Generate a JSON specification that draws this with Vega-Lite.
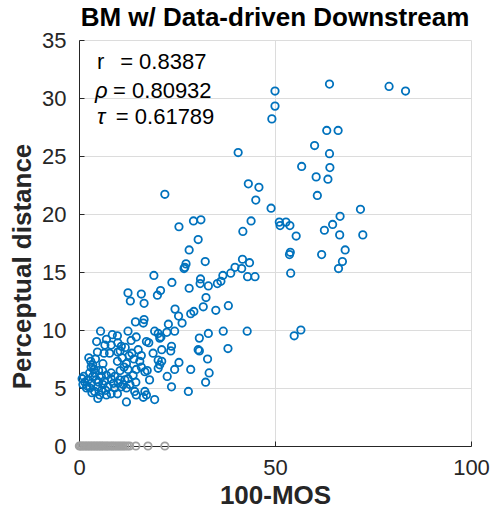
{
  "$schema": "https://vega.github.io/schema/vega-lite/v6.json",
  "width": 392,
  "height": 406,
  "autosize": {"type": "none"},
  "padding": {"left": 79, "top": 40, "right": 21, "bottom": 75},
  "background": "white",
  "title": {
    "text": "BM w/ Data-driven Downstream",
    "font": "Liberation Sans",
    "fontSize": 26,
    "fontWeight": "bold",
    "color": "#000000",
    "anchor": "middle",
    "frame": "group",
    "baseline": "alphabetic",
    "offset": 2,
    "dy": 25
  },
  "config": {
    "view": {"stroke": null},
    "axis": {
      "labelFont": "Liberation Sans",
      "labelFontSize": 22,
      "labelColor": "#262626",
      "labelFlush": false,
      "titleFont": "Liberation Sans",
      "titleFontSize": 26,
      "titleFontWeight": "bold",
      "titleColor": "#262626",
      "domainColor": "#262626",
      "domainWidth": 1,
      "tickColor": "#262626",
      "tickSize": -5,
      "gridColor": "#DCDCDC",
      "gridWidth": 1
    }
  },
  "datasets": {
    "scores": [
      {"mos": 50.0, "dist": 30.6, "group": "scored"},
      {"mos": 50.0, "dist": 29.3, "group": "scored"},
      {"mos": 49.2, "dist": 28.2, "group": "scored"},
      {"mos": 63.9, "dist": 31.2, "group": "scored"},
      {"mos": 79.1, "dist": 31.0, "group": "scored"},
      {"mos": 83.3, "dist": 30.6, "group": "scored"},
      {"mos": 63.2, "dist": 27.2, "group": "scored"},
      {"mos": 66.1, "dist": 27.2, "group": "scored"},
      {"mos": 60.1, "dist": 25.9, "group": "scored"},
      {"mos": 63.9, "dist": 25.2, "group": "scored"},
      {"mos": 56.8, "dist": 24.1, "group": "scored"},
      {"mos": 64.0, "dist": 24.0, "group": "scored"},
      {"mos": 60.5, "dist": 23.2, "group": "scored"},
      {"mos": 63.5, "dist": 23.0, "group": "scored"},
      {"mos": 60.8, "dist": 21.6, "group": "scored"},
      {"mos": 49.0, "dist": 20.5, "group": "scored"},
      {"mos": 71.8, "dist": 20.4, "group": "scored"},
      {"mos": 51.1, "dist": 19.3, "group": "scored"},
      {"mos": 52.8, "dist": 19.3, "group": "scored"},
      {"mos": 51.3, "dist": 19.0, "group": "scored"},
      {"mos": 53.8, "dist": 19.0, "group": "scored"},
      {"mos": 55.4, "dist": 18.1, "group": "scored"},
      {"mos": 66.6, "dist": 19.8, "group": "scored"},
      {"mos": 64.7, "dist": 19.1, "group": "scored"},
      {"mos": 62.6, "dist": 18.6, "group": "scored"},
      {"mos": 66.5, "dist": 18.2, "group": "scored"},
      {"mos": 72.4, "dist": 18.2, "group": "scored"},
      {"mos": 53.9, "dist": 16.7, "group": "scored"},
      {"mos": 53.7, "dist": 16.5, "group": "scored"},
      {"mos": 61.9, "dist": 16.5, "group": "scored"},
      {"mos": 67.9, "dist": 16.9, "group": "scored"},
      {"mos": 67.2, "dist": 15.9, "group": "scored"},
      {"mos": 66.2, "dist": 15.3, "group": "scored"},
      {"mos": 54.0, "dist": 14.9, "group": "scored"},
      {"mos": 56.6, "dist": 10.0, "group": "scored"},
      {"mos": 54.9, "dist": 9.5, "group": "scored"},
      {"mos": 40.6, "dist": 25.3, "group": "scored"},
      {"mos": 21.9, "dist": 21.7, "group": "scored"},
      {"mos": 43.2, "dist": 22.6, "group": "scored"},
      {"mos": 45.9, "dist": 22.3, "group": "scored"},
      {"mos": 45.1, "dist": 21.2, "group": "scored"},
      {"mos": 25.5, "dist": 18.9, "group": "scored"},
      {"mos": 29.2, "dist": 19.4, "group": "scored"},
      {"mos": 31.1, "dist": 19.5, "group": "scored"},
      {"mos": 43.9, "dist": 19.4, "group": "scored"},
      {"mos": 41.8, "dist": 18.5, "group": "scored"},
      {"mos": 30.4, "dist": 17.8, "group": "scored"},
      {"mos": 28.1, "dist": 16.9, "group": "scored"},
      {"mos": 32.2, "dist": 15.9, "group": "scored"},
      {"mos": 27.3, "dist": 15.7, "group": "scored"},
      {"mos": 27.0, "dist": 15.4, "group": "scored"},
      {"mos": 26.8, "dist": 15.3, "group": "scored"},
      {"mos": 41.7, "dist": 16.1, "group": "scored"},
      {"mos": 43.5, "dist": 15.8, "group": "scored"},
      {"mos": 41.5, "dist": 15.3, "group": "scored"},
      {"mos": 39.8, "dist": 15.4, "group": "scored"},
      {"mos": 38.7, "dist": 14.9, "group": "scored"},
      {"mos": 36.7, "dist": 14.7, "group": "scored"},
      {"mos": 36.2, "dist": 14.2, "group": "scored"},
      {"mos": 35.3, "dist": 14.0, "group": "scored"},
      {"mos": 43.0, "dist": 14.6, "group": "scored"},
      {"mos": 44.9, "dist": 14.6, "group": "scored"},
      {"mos": 31.0, "dist": 14.4, "group": "scored"},
      {"mos": 30.9, "dist": 14.0, "group": "scored"},
      {"mos": 33.0, "dist": 13.8, "group": "scored"},
      {"mos": 23.7, "dist": 14.1, "group": "scored"},
      {"mos": 28.1, "dist": 13.6, "group": "scored"},
      {"mos": 20.8, "dist": 13.4, "group": "scored"},
      {"mos": 32.4, "dist": 12.8, "group": "scored"},
      {"mos": 24.5, "dist": 11.8, "group": "scored"},
      {"mos": 25.4, "dist": 11.2, "group": "scored"},
      {"mos": 26.3, "dist": 10.6, "group": "scored"},
      {"mos": 28.5, "dist": 11.4, "group": "scored"},
      {"mos": 29.3, "dist": 11.6, "group": "scored"},
      {"mos": 31.7, "dist": 12.0, "group": "scored"},
      {"mos": 34.9, "dist": 11.7, "group": "scored"},
      {"mos": 38.1, "dist": 12.1, "group": "scored"},
      {"mos": 22.8, "dist": 10.5, "group": "scored"},
      {"mos": 22.4, "dist": 9.8, "group": "scored"},
      {"mos": 24.4, "dist": 9.9, "group": "scored"},
      {"mos": 30.7, "dist": 9.3, "group": "scored"},
      {"mos": 33.0, "dist": 9.7, "group": "scored"},
      {"mos": 36.8, "dist": 9.9, "group": "scored"},
      {"mos": 42.9, "dist": 9.9, "group": "scored"},
      {"mos": 20.9, "dist": 9.4, "group": "scored"},
      {"mos": 23.6, "dist": 8.6, "group": "scored"},
      {"mos": 23.4, "dist": 8.2, "group": "scored"},
      {"mos": 21.1, "dist": 8.3, "group": "scored"},
      {"mos": 30.4, "dist": 8.3, "group": "scored"},
      {"mos": 30.7, "dist": 8.2, "group": "scored"},
      {"mos": 38.0, "dist": 8.4, "group": "scored"},
      {"mos": 32.8, "dist": 7.5, "group": "scored"},
      {"mos": 25.5, "dist": 7.2, "group": "scored"},
      {"mos": 21.1, "dist": 7.3, "group": "scored"},
      {"mos": 24.4, "dist": 6.6, "group": "scored"},
      {"mos": 28.5, "dist": 6.6, "group": "scored"},
      {"mos": 33.2, "dist": 6.3, "group": "scored"},
      {"mos": 22.5, "dist": 6.0, "group": "scored"},
      {"mos": 32.3, "dist": 5.5, "group": "scored"},
      {"mos": 23.6, "dist": 5.1, "group": "scored"},
      {"mos": 27.9, "dist": 4.7, "group": "scored"},
      {"mos": 19.1, "dist": 14.7, "group": "scored"},
      {"mos": 12.5, "dist": 13.2, "group": "scored"},
      {"mos": 13.1, "dist": 12.5, "group": "scored"},
      {"mos": 15.9, "dist": 13.1, "group": "scored"},
      {"mos": 16.6, "dist": 12.3, "group": "scored"},
      {"mos": 20.0, "dist": 13.0, "group": "scored"},
      {"mos": 14.4, "dist": 10.7, "group": "scored"},
      {"mos": 16.6, "dist": 10.9, "group": "scored"},
      {"mos": 16.4, "dist": 10.6, "group": "scored"},
      {"mos": 5.5, "dist": 9.9, "group": "scored"},
      {"mos": 9.8, "dist": 9.5, "group": "scored"},
      {"mos": 12.5, "dist": 9.9, "group": "scored"},
      {"mos": 19.3, "dist": 9.9, "group": "scored"},
      {"mos": 14.6, "dist": 9.4, "group": "scored"},
      {"mos": 13.3, "dist": 9.1, "group": "scored"},
      {"mos": 17.2, "dist": 9.0, "group": "scored"},
      {"mos": 17.8, "dist": 8.9, "group": "scored"},
      {"mos": 20.2, "dist": 9.7, "group": "scored"},
      {"mos": 20.6, "dist": 9.3, "group": "scored"},
      {"mos": 6.6, "dist": 8.7, "group": "scored"},
      {"mos": 8.2, "dist": 8.7, "group": "scored"},
      {"mos": 9.9, "dist": 8.9, "group": "scored"},
      {"mos": 10.8, "dist": 8.6, "group": "scored"},
      {"mos": 4.7, "dist": 8.1, "group": "scored"},
      {"mos": 6.4, "dist": 8.0, "group": "scored"},
      {"mos": 7.8, "dist": 8.0, "group": "scored"},
      {"mos": 9.9, "dist": 8.1, "group": "scored"},
      {"mos": 11.0, "dist": 7.6, "group": "scored"},
      {"mos": 9.8, "dist": 7.3, "group": "scored"},
      {"mos": 3.0, "dist": 7.3, "group": "scored"},
      {"mos": 6.1, "dist": 7.1, "group": "scored"},
      {"mos": 3.1, "dist": 6.8, "group": "scored"},
      {"mos": 3.8, "dist": 6.6, "group": "scored"},
      {"mos": 8.2, "dist": 6.3, "group": "scored"},
      {"mos": 12.1, "dist": 7.1, "group": "scored"},
      {"mos": 12.5, "dist": 6.6, "group": "scored"},
      {"mos": 15.5, "dist": 7.3, "group": "scored"},
      {"mos": 15.9, "dist": 6.8, "group": "scored"},
      {"mos": 20.2, "dist": 7.4, "group": "scored"},
      {"mos": 20.6, "dist": 7.0, "group": "scored"},
      {"mos": 18.9, "dist": 8.0, "group": "scored"},
      {"mos": 16.8, "dist": 6.4, "group": "scored"},
      {"mos": 17.4, "dist": 6.5, "group": "scored"},
      {"mos": 18.0, "dist": 5.7, "group": "scored"},
      {"mos": 1.5, "dist": 5.5, "group": "scored"},
      {"mos": 2.3, "dist": 5.7, "group": "scored"},
      {"mos": 3.1, "dist": 5.4, "group": "scored"},
      {"mos": 4.4, "dist": 5.7, "group": "scored"},
      {"mos": 5.7, "dist": 6.0, "group": "scored"},
      {"mos": 7.0, "dist": 6.1, "group": "scored"},
      {"mos": 8.2, "dist": 5.8, "group": "scored"},
      {"mos": 9.1, "dist": 6.0, "group": "scored"},
      {"mos": 10.4, "dist": 5.7, "group": "scored"},
      {"mos": 11.7, "dist": 5.7, "group": "scored"},
      {"mos": 12.5, "dist": 5.8, "group": "scored"},
      {"mos": 4.8, "dist": 5.1, "group": "scored"},
      {"mos": 6.1, "dist": 5.3, "group": "scored"},
      {"mos": 7.4, "dist": 5.1, "group": "scored"},
      {"mos": 9.1, "dist": 5.0, "group": "scored"},
      {"mos": 10.8, "dist": 5.1, "group": "scored"},
      {"mos": 12.1, "dist": 5.0, "group": "scored"},
      {"mos": 4.0, "dist": 4.7, "group": "scored"},
      {"mos": 5.3, "dist": 4.4, "group": "scored"},
      {"mos": 7.0, "dist": 4.4, "group": "scored"},
      {"mos": 8.2, "dist": 4.5, "group": "scored"},
      {"mos": 9.8, "dist": 4.5, "group": "scored"},
      {"mos": 14.2, "dist": 4.7, "group": "scored"},
      {"mos": 14.6, "dist": 4.4, "group": "scored"},
      {"mos": 16.8, "dist": 4.7, "group": "scored"},
      {"mos": 17.2, "dist": 4.4, "group": "scored"},
      {"mos": 16.4, "dist": 4.2, "group": "scored"},
      {"mos": 12.1, "dist": 3.8, "group": "scored"},
      {"mos": 19.3, "dist": 4.0, "group": "scored"},
      {"mos": 4.8, "dist": 4.1, "group": "scored"},
      {"mos": 1.0, "dist": 5.3, "group": "scored"},
      {"mos": 1.9, "dist": 5.0, "group": "scored"},
      {"mos": 2.7, "dist": 6.3, "group": "scored"},
      {"mos": 4.0, "dist": 6.3, "group": "scored"},
      {"mos": 13.8, "dist": 6.1, "group": "scored"},
      {"mos": 14.6, "dist": 6.6, "group": "scored"},
      {"mos": 15.1, "dist": 8.3, "group": "scored"},
      {"mos": 15.9, "dist": 7.8, "group": "scored"},
      {"mos": 20.2, "dist": 6.7, "group": "scored"},
      {"mos": 0.8, "dist": 5.8, "group": "scored"},
      {"mos": 1.2, "dist": 6.0, "group": "scored"},
      {"mos": 2.0, "dist": 5.2, "group": "scored"},
      {"mos": 2.8, "dist": 5.0, "group": "scored"},
      {"mos": 3.5, "dist": 6.0, "group": "scored"},
      {"mos": 5.0, "dist": 5.5, "group": "scored"},
      {"mos": 6.5, "dist": 5.6, "group": "scored"},
      {"mos": 5.8, "dist": 4.8, "group": "scored"},
      {"mos": 3.3, "dist": 4.6, "group": "scored"},
      {"mos": 6.8, "dist": 4.8, "group": "scored"},
      {"mos": 8.8, "dist": 5.4, "group": "scored"},
      {"mos": 10.0, "dist": 5.4, "group": "scored"},
      {"mos": 11.3, "dist": 5.3, "group": "scored"},
      {"mos": 3.5, "dist": 7.0, "group": "scored"},
      {"mos": 2.5, "dist": 7.6, "group": "scored"},
      {"mos": 4.2, "dist": 7.5, "group": "scored"},
      {"mos": 5.0, "dist": 6.5, "group": "scored"},
      {"mos": 6.0, "dist": 6.5, "group": "scored"},
      {"mos": 10.5, "dist": 6.5, "group": "scored"},
      {"mos": 11.5, "dist": 6.8, "group": "scored"},
      {"mos": 10.5, "dist": 8.2, "group": "scored"},
      {"mos": 11.8, "dist": 8.5, "group": "scored"},
      {"mos": 13.5, "dist": 8.0, "group": "scored"},
      {"mos": 14.0, "dist": 7.5, "group": "scored"},
      {"mos": 12.8, "dist": 7.8, "group": "scored"},
      {"mos": 14.5, "dist": 5.5, "group": "scored"},
      {"mos": 13.0, "dist": 5.3, "group": "scored"},
      {"mos": 4.5, "dist": 9.0, "group": "scored"},
      {"mos": 7.0, "dist": 9.2, "group": "scored"},
      {"mos": 8.5, "dist": 9.6, "group": "scored"},
      {"mos": 0.1, "dist": 0, "group": "zero"},
      {"mos": 0.4, "dist": 0, "group": "zero"},
      {"mos": 0.8, "dist": 0, "group": "zero"},
      {"mos": 1.2, "dist": 0, "group": "zero"},
      {"mos": 1.6, "dist": 0, "group": "zero"},
      {"mos": 2.0, "dist": 0, "group": "zero"},
      {"mos": 2.4, "dist": 0, "group": "zero"},
      {"mos": 2.8, "dist": 0, "group": "zero"},
      {"mos": 3.2, "dist": 0, "group": "zero"},
      {"mos": 3.6, "dist": 0, "group": "zero"},
      {"mos": 4.0, "dist": 0, "group": "zero"},
      {"mos": 4.4, "dist": 0, "group": "zero"},
      {"mos": 4.8, "dist": 0, "group": "zero"},
      {"mos": 5.2, "dist": 0, "group": "zero"},
      {"mos": 5.6, "dist": 0, "group": "zero"},
      {"mos": 6.0, "dist": 0, "group": "zero"},
      {"mos": 6.4, "dist": 0, "group": "zero"},
      {"mos": 6.9, "dist": 0, "group": "zero"},
      {"mos": 7.3, "dist": 0, "group": "zero"},
      {"mos": 7.8, "dist": 0, "group": "zero"},
      {"mos": 8.3, "dist": 0, "group": "zero"},
      {"mos": 8.7, "dist": 0, "group": "zero"},
      {"mos": 9.2, "dist": 0, "group": "zero"},
      {"mos": 9.7, "dist": 0, "group": "zero"},
      {"mos": 10.2, "dist": 0, "group": "zero"},
      {"mos": 10.7, "dist": 0, "group": "zero"},
      {"mos": 11.2, "dist": 0, "group": "zero"},
      {"mos": 11.7, "dist": 0, "group": "zero"},
      {"mos": 12.3, "dist": 0, "group": "zero"},
      {"mos": 12.9, "dist": 0, "group": "zero"},
      {"mos": 14.5, "dist": 0, "group": "zero"},
      {"mos": 17.6, "dist": 0, "group": "zero"},
      {"mos": 21.9, "dist": 0, "group": "zero"}
    ]
  },
  "encoding": {
    "x": {
      "type": "quantitative",
      "scale": {"domain": [0, 100], "nice": false, "zero": false},
      "axis": {"title": "100-MOS", "values": [0, 50, 100], "grid": true, "labelPadding": 16, "titlePadding": 4}
    },
    "y": {
      "type": "quantitative",
      "scale": {"domain": [0, 35], "nice": false, "zero": false},
      "axis": {"title": "Perceptual distance", "values": [0, 5, 10, 15, 20, 25, 30, 35], "grid": true, "labelPadding": 18, "titlePadding": 6, "titleY": 226}
    }
  },
  "layer": [
    {
      "data": {"name": "scores"},
      "mark": {"type": "point", "shape": "circle", "filled": false, "size": 55, "strokeWidth": 1.8, "opacity": 1},
      "encoding": {
        "x": {"field": "mos", "type": "quantitative", "title": "100-MOS"},
        "y": {"field": "dist", "type": "quantitative", "title": "Perceptual distance"},
        "color": {
          "field": "group",
          "type": "nominal",
          "scale": {"domain": ["scored", "zero"], "range": ["#0072BD", "#A0A0A0"]},
          "legend": null
        }
      }
    },
    {
      "data": {"values": [{}]},
      "mark": {"type": "text", "align": "left", "baseline": "alphabetic", "font": "Liberation Sans", "fontSize": 22, "color": "#000000"},
      "encoding": {"x": {"datum": 4.6, "type": "quantitative"}, "y": {"datum": 32.5, "type": "quantitative"}, "text": {"value": "r"}}
    },
    {
      "data": {"values": [{}]},
      "mark": {"type": "text", "align": "left", "baseline": "alphabetic", "font": "Liberation Sans", "fontSize": 22, "color": "#000000"},
      "encoding": {"x": {"datum": 10.5, "type": "quantitative"}, "y": {"datum": 32.5, "type": "quantitative"}, "text": {"value": "= 0.8387"}}
    },
    {
      "data": {"values": [{}]},
      "mark": {"type": "text", "align": "left", "baseline": "alphabetic", "font": "Liberation Sans", "fontSize": 22, "fontStyle": "italic", "color": "#000000"},
      "encoding": {"x": {"datum": 4.1, "type": "quantitative"}, "y": {"datum": 30.0, "type": "quantitative"}, "text": {"value": "ρ"}}
    },
    {
      "data": {"values": [{}]},
      "mark": {"type": "text", "align": "left", "baseline": "alphabetic", "font": "Liberation Sans", "fontSize": 22, "color": "#000000"},
      "encoding": {"x": {"datum": 8.7, "type": "quantitative"}, "y": {"datum": 30.0, "type": "quantitative"}, "text": {"value": "= 0.80932"}}
    },
    {
      "data": {"values": [{}]},
      "mark": {"type": "text", "align": "left", "baseline": "alphabetic", "font": "Liberation Sans", "fontSize": 22, "fontStyle": "italic", "color": "#000000"},
      "encoding": {"x": {"datum": 4.6, "type": "quantitative"}, "y": {"datum": 27.8, "type": "quantitative"}, "text": {"value": "τ"}}
    },
    {
      "data": {"values": [{}]},
      "mark": {"type": "text", "align": "left", "baseline": "alphabetic", "font": "Liberation Sans", "fontSize": 22, "color": "#000000"},
      "encoding": {"x": {"datum": 9.4, "type": "quantitative"}, "y": {"datum": 27.8, "type": "quantitative"}, "text": {"value": "= 0.61789"}}
    }
  ]
}
